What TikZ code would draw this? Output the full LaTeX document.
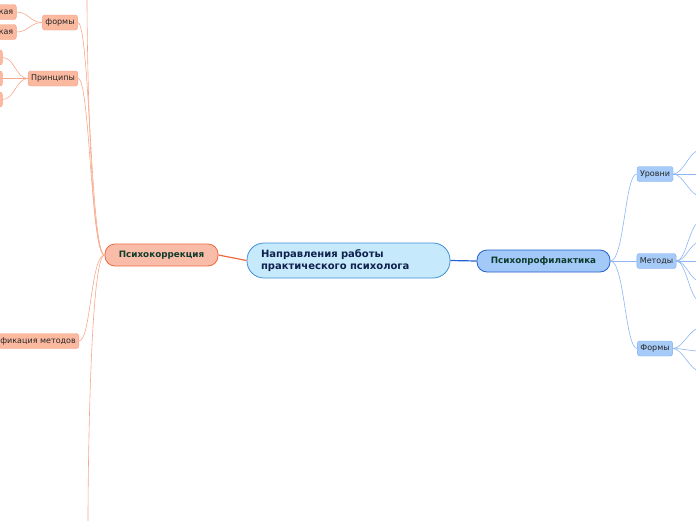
\documentclass[tikz,border=0pt]{standalone}
\usepackage{fontspec}
\setmainfont{DejaVu Sans}
\definecolor{mainfill}{HTML}{C6E9FC}
\definecolor{mainline}{HTML}{3F8FD6}
\definecolor{maintext}{HTML}{10214E}
\definecolor{korrfill}{HTML}{F9BCA8}
\definecolor{korrline}{HTML}{F06A40}
\definecolor{proffill}{HTML}{A3C9F9}
\definecolor{profline}{HTML}{2060D0}
\definecolor{headtext}{HTML}{0F3B2B}
\definecolor{ksubfill}{HTML}{FBB9A0}
\definecolor{ksubline}{HTML}{F7A285}
\definecolor{psubfill}{HTML}{A6CBF9}
\definecolor{psubline}{HTML}{7DACF0}
\definecolor{kwire}{HTML}{F7A88C}
\definecolor{pwire}{HTML}{8DB6F2}
\begin{document}
\begin{tikzpicture}[x=1pt,y=-1pt,
center/.style ={rectangle, draw=mainline, fill=mainfill, line width=0.8pt,
  rounded corners=17pt, minimum width=203pt, minimum height=35pt,
  inner xsep=14pt, text width=175pt, align=left, text=maintext,
  font=\fontsize{10}{12}\selectfont\bfseries
},
head/.style ={rectangle, line width=0.8pt, rounded corners=10pt,
  minimum height=22pt, text=headtext,
  font=\fontsize{8.8}{10}\selectfont\bfseries
},
ksub/.style ={rectangle, draw=ksubline, fill=ksubfill, rounded corners=2.5pt,
  minimum height=15pt, inner xsep=3pt, text=black!85,
  font=\fontsize{8}{9}\selectfont
},
psub/.style ={rectangle, draw=psubline, fill=psubfill, rounded corners=2.5pt,
  minimum height=15pt, inner xsep=3pt, text=black!85,
  font=\fontsize{8}{9}\selectfont
},
kwire/.style ={draw=kwire, line width=0.6pt},
pwire/.style ={draw=pwire, line width=0.6pt}
]
\useasboundingbox (0,0) rectangle (696,520);
\clip (0,0) rectangle (696,520);

\node (glavn) at (348.5,260.5) [center] {Направления работы\\практического психолога};
\node (korr) at (161.5,255) [head, draw=korrline, fill=korrfill, minimum width=113pt] {Психокоррекция};
\node (prof) at (543.5,261) [head, draw=profline, fill=proffill, minimum width=133pt] {Психопрофилактика};

% psychocorrection branch
\node (kformy) at (60,22.5) [ksub] {формы};
\node (kprinc) at (53,78.5) [ksub] {Принципы};
\node (kklass) at (79,341) [ksub, anchor=east] {ификация методов};
\node (kform1) at (16.5,12) [ksub, anchor=east, text width=40pt, align=right] {ская};
\node (kform2) at (16.5,32) [ksub, anchor=east, text width=40pt, align=right] {ская};
\node (kpr1) at (2.5,57.5) [ksub, anchor=east, minimum width=40pt] {};
\node (kpr2) at (2.5,78.5) [ksub, anchor=east, minimum width=40pt] {};
\node (kpr3) at (2.5,99.5) [ksub, anchor=east, minimum width=40pt] {};
\coordinate (ktop) at (87,-2);
\coordinate (kbot) at (88,522);

% psychoprophylaxis branch
\node (purov) at (655,174) [psub] {Уровни};
\node (pmet) at (656.5,261) [psub] {Методы};
\node (pform) at (655,348.5) [psub] {Формы};
\coordinate (u1) at (700,150);
\coordinate (u2) at (700,174);
\coordinate (u3) at (700,196);
\coordinate (m1) at (700,222);
\coordinate (m2) at (700,242);
\coordinate (m3) at (700,261);
\coordinate (m4) at (700,281);
\coordinate (m5) at (700,301);
\coordinate (f1) at (700,328);
\coordinate (f2) at (700,351);
\coordinate (f3) at (700,371);

\draw[draw=korrline, line width=1.2pt] (glavn.west) -- (korr.east);
\draw[draw=profline, line width=1.2pt] (glavn.east) -- (prof.west);

\draw[kwire] (korr.west) .. controls +(-14,0) and +(0,60) .. (ktop);
\draw[kwire] (korr.west) .. controls +(-14,0) and +(12,0) .. (kformy.east);
\draw[kwire] (korr.west) .. controls +(-14,0) and +(12,0) .. (kprinc.east);
\draw[kwire] (korr.west) .. controls +(-14,0) and +(12,0) .. (kklass.east);
\draw[kwire] (korr.west) .. controls +(-14,0) and +(0,-60) .. (kbot);
\draw[kwire] (kformy.west) .. controls +(-12,0) and +(12,0) .. (kform1.east);
\draw[kwire] (kformy.west) .. controls +(-12,0) and +(12,0) .. (kform2.east);
\draw[kwire] (kprinc.west) .. controls +(-12,0) and +(12,0) .. (kpr1.east);
\draw[kwire] (kprinc.west) -- (kpr2.east);
\draw[kwire] (kprinc.west) .. controls +(-12,0) and +(12,0) .. (kpr3.east);

\draw[pwire] (prof.east) .. controls +(14,0) and +(-12,0) .. (purov.west);
\draw[pwire] (prof.east) -- (pmet.west);
\draw[pwire] (prof.east) .. controls +(14,0) and +(-12,0) .. (pform.west);
\draw[pwire] (purov.east) .. controls +(10,0) and +(-10,0) .. (u1);
\draw[pwire] (purov.east) -- (u2);
\draw[pwire] (purov.east) .. controls +(10,0) and +(-10,0) .. (u3);
\draw[pwire] (pmet.east) .. controls +(10,0) and +(-10,0) .. (m1);
\draw[pwire] (pmet.east) .. controls +(10,0) and +(-10,0) .. (m2);
\draw[pwire] (pmet.east) -- (m3);
\draw[pwire] (pmet.east) .. controls +(10,0) and +(-10,0) .. (m4);
\draw[pwire] (pmet.east) .. controls +(10,0) and +(-10,0) .. (m5);
\draw[pwire] (pform.east) .. controls +(10,0) and +(-10,0) .. (f1);
\draw[pwire] (pform.east) .. controls +(10,0) and +(-10,0) .. (f2);
\draw[pwire] (pform.east) .. controls +(10,0) and +(-10,0) .. (f3);
\end{tikzpicture}
\end{document}
